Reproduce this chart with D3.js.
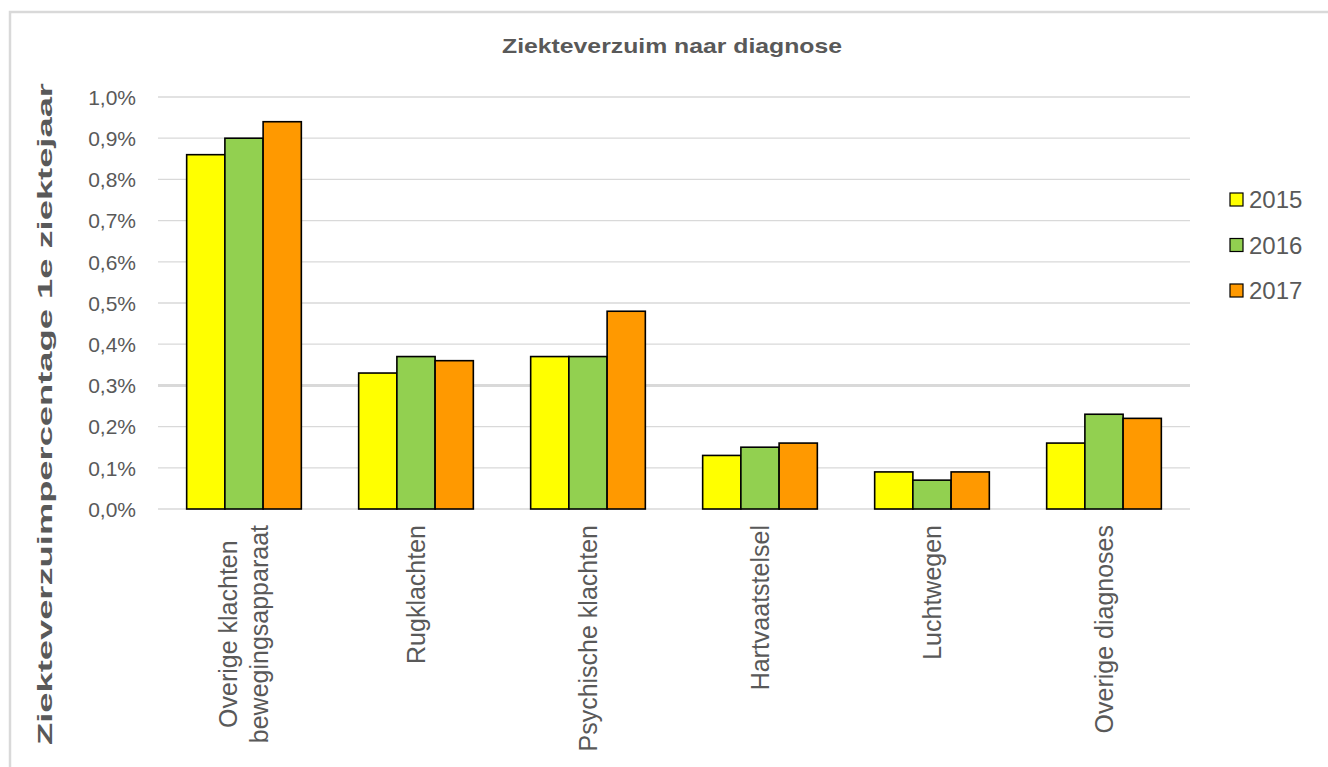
<!DOCTYPE html>
<html>
<head>
<meta charset="utf-8">
<script src="https://cdn.jsdelivr.net/npm/d3@7"></script>
<style>
  html, body { margin: 0; padding: 0; background: #fff; }
  svg { display: block; font-family: "Liberation Sans", Arial, sans-serif; }
</style>
</head>
<body>
<svg id="chart" width="1328" height="767"></svg>
<script>
const categories = [
  ["Overige klachten", "bewegingsapparaat"],
  ["Rugklachten"],
  ["Psychische klachten"],
  ["Hartvaatstelsel"],
  ["Luchtwegen"],
  ["Overige diagnoses"]
];
const series = ["2015", "2016", "2017"];
const values2015 = [0.86, 0.33, 0.37, 0.13, 0.09, 0.16];
const values2016 = [0.90, 0.37, 0.37, 0.15, 0.07, 0.23];
const values2017 = [0.94, 0.36, 0.48, 0.16, 0.09, 0.22];
const yTicks = [0, 0.1, 0.2, 0.3, 0.4, 0.5, 0.6, 0.7, 0.8, 0.9, 1.0];
const colors = ["#ffff00", "#92d050", "#ff9900"];
const title = "Ziekteverzuim naar diagnose";
const yTitle = "Ziekteverzuimpercentage 1e ziektejaar";

const seriesValues = [values2015, values2016, values2017];
const catKeys = categories.map(c => c.join(" "));

const svg = d3.select("#chart");
const textColor = "#595959";

// outer border
svg.append("rect")
  .attr("x", 10).attr("y", 12)
  .attr("width", 1340).attr("height", 780)
  .attr("fill", "none").attr("stroke", "#d9d9d9").attr("stroke-width", 2.5);

const plot = { left: 158, right: 1190, top: 97, bottom: 509 };

const x0 = d3.scaleBand().domain(catKeys).range([plot.left, plot.right]).padding(0);
const x1 = d3.scaleBand().domain(series).range([0, x0.bandwidth()]).paddingInner(0).paddingOuter(0.75);
const y = d3.scaleLinear().domain([0, 1.0]).range([plot.bottom, plot.top]);

// gridlines
svg.append("g").selectAll("line").data(yTicks).join("line")
  .attr("x1", plot.left).attr("x2", plot.right)
  .attr("y1", d => y(d)).attr("y2", d => y(d))
  .attr("stroke", "#d9d9d9")
  .attr("stroke-width", d => Math.abs(d - 0.3) < 1e-9 ? 3 : 1.3);

// y axis labels
const yAxis = d3.axisLeft(y).tickValues(yTicks)
  .tickFormat(d => d.toFixed(1).replace(".", ",") + "%")
  .tickSize(0).tickPadding(0);
const yg = svg.append("g").attr("transform", `translate(${plot.left - 22},0)`).call(yAxis);
yg.select(".domain").remove();
yg.selectAll("text")
  .attr("fill", textColor)
  .style("font-size", "21px")
  .style("font-family", '"Liberation Sans", Arial, sans-serif')
  .attr("dy", "0.35em");

// bars
const groups = svg.append("g").selectAll("g").data(catKeys).join("g")
  .attr("transform", d => `translate(${x0(d)},0)`);
groups.selectAll("rect")
  .data((d, i) => series.map((s, j) => ({ s, j, v: seriesValues[j][i] })))
  .join("rect")
  .attr("x", d => x1(d.s))
  .attr("width", x1.bandwidth())
  .attr("y", d => y(d.v))
  .attr("height", d => y(0) - y(d.v))
  .attr("fill", d => colors[d.j])
  .attr("stroke", "#000")
  .attr("stroke-width", 1.6);

// x labels
const lineGap = 31;
categories.forEach((lines, i) => {
  const cx = x0(catKeys[i]) + x0.bandwidth() / 2;
  const g = svg.append("g").attr("transform", `translate(${cx},525) rotate(-90)`);
  const texts = lines.map((ln, k) => g.append("text")
    .text(ln)
    .attr("fill", textColor)
    .style("font-size", "25px")
    .attr("text-anchor", "middle")
    .attr("y", (k - (lines.length - 1) / 2) * lineGap)
    .attr("dy", "0.35em"));
  const maxLen = d3.max(texts, t => t.node().getComputedTextLength());
  texts.forEach(t => t.attr("x", -maxLen / 2));
});

// title
svg.append("text")
  .attr("x", 672).attr("y", 53)
  .attr("text-anchor", "middle")
  .attr("fill", textColor)
  .style("font-size", "21px").style("font-weight", "bold")
  .attr("textLength", 340).attr("lengthAdjust", "spacingAndGlyphs")
  .text(title);

// y title
svg.append("text")
  .attr("transform", "translate(52,414) rotate(-90)")
  .attr("text-anchor", "middle")
  .attr("fill", textColor)
  .style("font-size", "21px").style("font-weight", "bold")
  .attr("textLength", 662).attr("lengthAdjust", "spacingAndGlyphs")
  .text(yTitle);

// legend
const lg = svg.append("g").selectAll("g").data(series).join("g")
  .attr("transform", (d, i) => `translate(1230,${200 + i * 45.5})`);
lg.append("rect")
  .attr("x", 0).attr("y", -7)
  .attr("width", 13).attr("height", 13)
  .attr("fill", (d, i) => colors[i])
  .attr("stroke", "#000").attr("stroke-width", 1.2);
lg.append("text")
  .attr("x", 19).attr("y", 0).attr("dy", "0.35em")
  .attr("fill", textColor)
  .style("font-size", "24px")
  .text(d => d);
</script>
</body>
</html>
